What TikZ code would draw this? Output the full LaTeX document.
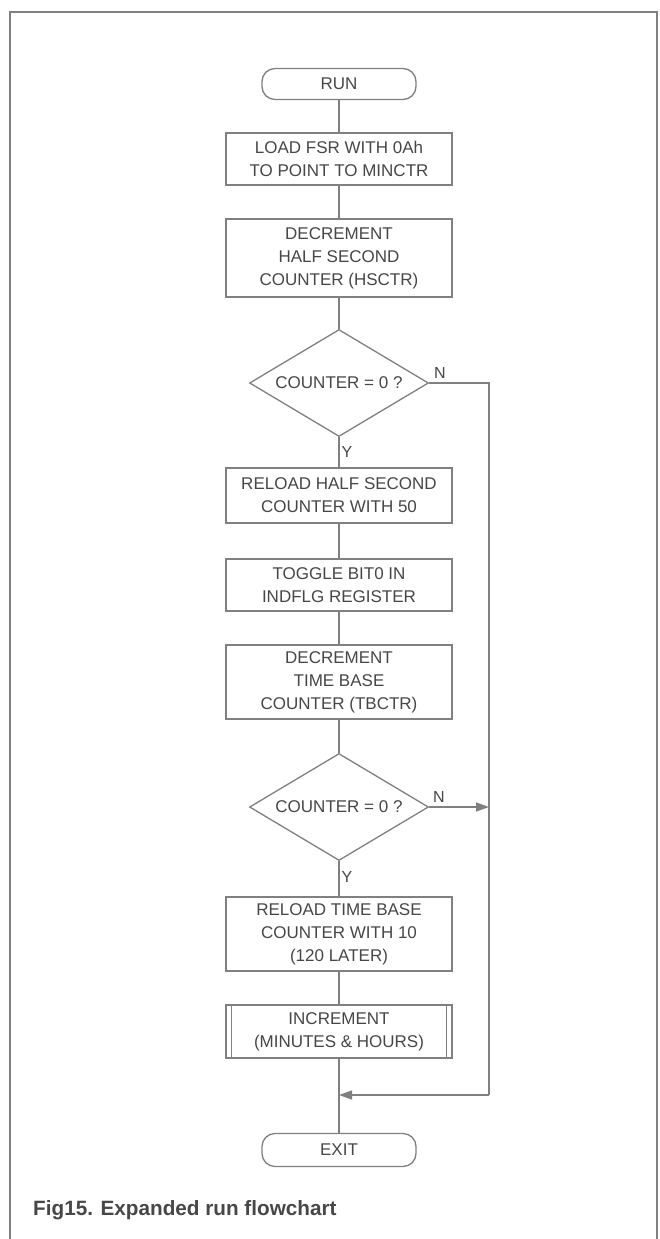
\documentclass[tikz,border=0pt]{standalone}
\usepackage{fontspec}
\setmainfont{Liberation Sans}
\usetikzlibrary{shapes.geometric,arrows.meta}
\definecolor{linec}{gray}{0.50}
\definecolor{textc}{gray}{0.28}
\begin{document}
\begin{tikzpicture}[x=1pt,y=-1pt,
  every node/.style={text=textc,font=\fontsize{17}{23}\selectfont},
  flowline/.style={draw=linec,line width=1.3pt},
  procbox/.style={draw=linec,line width=1.3pt,rectangle,minimum width=226pt,align=center,inner sep=0pt},
  termbox/.style={draw=linec,line width=1.3pt,rectangle,rounded corners=13pt,minimum width=154pt,minimum height=31pt,inner sep=0pt},
  decbox/.style={draw=linec,line width=1.3pt,diamond,shape aspect=1.68,minimum width=179pt,minimum height=107pt,inner sep=0pt},
  yn/.style={font=\fontsize{16}{16}\selectfont,inner sep=0pt},
  arr/.style={flowline,-{Triangle[length=13pt,width=9pt]}}
]
\useasboundingbox (0,0) rectangle (659,1239);
\fill[white] (0,0) rectangle (659,1239);
% frame
\draw[linec,line width=1.2pt] (10,1239) -- (10,12) -- (657,12) -- (657,1239);

\node[termbox] (run) at (339,84) {RUN};
\node[procbox,minimum height=52pt] (b1) at (339,159) {LOAD FSR WITH 0Ah\\TO POINT TO MINCTR};
\node[procbox,minimum height=78pt] (b2) at (339,258) {DECREMENT\\HALF SECOND\\COUNTER (HSCTR)};
\node[decbox] (d1) at (339,383) {COUNTER = 0 ?};
\node[procbox,minimum height=55pt] (b3) at (339,495.5) {RELOAD HALF SECOND\\COUNTER WITH 50};
\node[procbox,minimum height=52pt] (b4) at (339,585) {TOGGLE BIT0 IN\\INDFLG REGISTER};
\node[procbox,minimum height=74pt] (b5) at (339,682) {DECREMENT\\TIME BASE\\COUNTER (TBCTR)};
\node[decbox] (d2) at (339,807) {COUNTER = 0 ?};
\node[procbox,minimum height=74pt] (b6) at (339,934) {RELOAD TIME BASE\\COUNTER WITH 10\\(120 LATER)};
\node[procbox,minimum height=53pt] (b7) at (339,1031.5) {INCREMENT\\(MINUTES \& HOURS)};
\draw[linec,line width=1.1pt] ([xshift=6pt]b7.north west) -- ([xshift=6pt]b7.south west);
\draw[linec,line width=1.1pt] ([xshift=-6pt]b7.north east) -- ([xshift=-6pt]b7.south east);
\node[termbox,minimum height=33pt] (exit) at (339,1150) {EXIT};

\coordinate (r1) at (489,383);
\coordinate (r2) at (489,807);
\coordinate (r3) at (489,1095);
\coordinate (j) at (339,1095);

\draw[flowline] (run) -- (b1);
\draw[flowline] (b1) -- (b2);
\draw[flowline] (b2) -- (d1);
\draw[flowline] (d1) -- (b3);
\draw[flowline] (b3) -- (b4);
\draw[flowline] (b4) -- (b5);
\draw[flowline] (b5) -- (d2);
\draw[flowline] (d2) -- (b6);
\draw[flowline] (b6) -- (b7);
\draw[flowline] (b7) -- (exit);
\draw[flowline] (d1.east) -- (r1) -- (r3);
\draw[arr] (d2.east) -- (r2);
\draw[arr] (r3) -- (j);

\node[yn] (n1) at (440,373) {N};
\node[yn] (y1) at (347,452) {Y};
\node[yn] (n2) at (439,797) {N};
\node[yn] (y2) at (347,877) {Y};

\node[anchor=base west,inner sep=0pt,font=\bfseries\fontsize{20.7}{21}\selectfont] (cap) at (33,1215) {Fig15. Expanded run flowchart};
\end{tikzpicture}
\end{document}
